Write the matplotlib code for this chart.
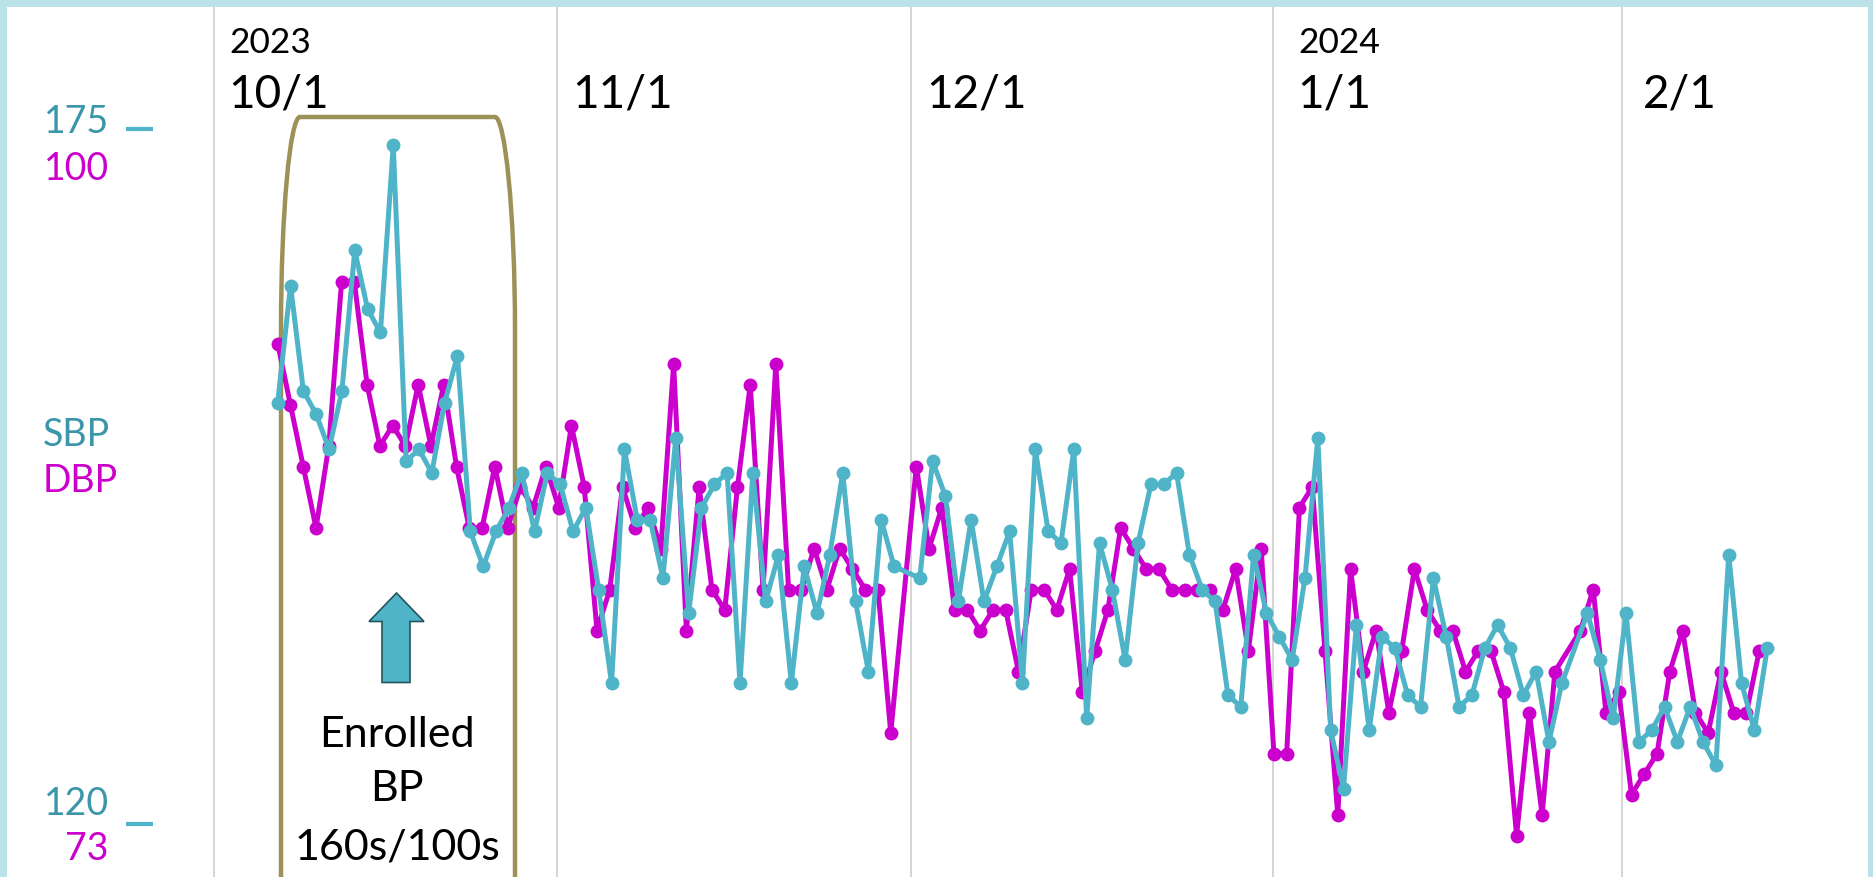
"""Home BP log: daily SBP / DBP readings, Oct 2023 - Feb 2024."""

import matplotlib

matplotlib.use("Agg")
import matplotlib.pyplot as plt
import numpy as np
from matplotlib.patches import PathPatch, Polygon, Rectangle
from matplotlib.path import Path

# daily readings, None = no reading that day
sbp = [
    157, 167, 158, 156, 153, 158, 170, 165, 163, 179,
    152, 153, 151, 157, 161, 146, 143, 146, 148, 151,
    146, 151, 150, 146, 148, 141, 133, 153, 147, 147,
    142, 154, 139, 148, 150, 151, 133, 151, 140, 144,
    133, 143, 139, 144, 151, 140, 134, 147, 143, None,
    142, 152, 149, 140, 147, 140, 143, 146, 133, 153,
    146, 145, 153, 130, 145, 141, 135, 145, 150, 150,
    151, 144, 141, 140, 132, 131, 144, 139, 137, 135,
    142, 154, 129, 124, 138, 129, 137, 136, 132, 131,
    142, 137, 131, 132, 136, 138, 136, 132, 134, 128,
    133, None, 139, 135, 130, 139, 128, 129, 131, 128,
    131, 128, 126, 144, 133, 129, 136,
]
dbp = [
    94, 91, 88, 85, 89, 97, 97, 92, 89, 90,
    89, 92, 89, 92, 88, 85, 85, 88, 85, 87,
    86, 88, 86, 90, 87, 80, 82, 87, 85, 86,
    84, 93, 80, 87, 82, 81, 87, 92, 82, 93,
    82, 82, 84, 82, 84, 83, 82, 82, 75, None,
    88, 84, 86, 81, 81, 80, 81, 81, 78, 82,
    82, 81, 83, 77, 79, 81, 85, 84, 83, 83,
    82, 82, 82, 82, 81, 83, 79, 84, 74, 74,
    86, 87, 79, 71, 83, 78, 80, 76, 79, 83,
    81, 80, 80, 78, 79, 79, 77, 70, 76, 71,
    78, None, 80, 82, 76, 77, 72, 73, 74, 78,
    80, 76, 75, 78, 76, 76, 79,
]

month_labels = ["10/1", "11/1", "12/1", "1/1", "2/1"]
year_labels = {"10/1": "2023", "1/1": "2024"}
note_lines = ["Enrolled", "BP", "160s/100s"]

W, H = 1874, 877
TEAL = "#4FB4C8"
TEAL_TEXT = "#3A96A8"
MAGENTA = "#CC00CC"
OLIVE = "#9C9258"

plt.rcParams["font.family"] = ["Lato", "DejaVu Sans"]

fig = plt.figure(figsize=(W / 100, H / 100), dpi=100)
fig.patch.set_facecolor("white")

# background layer in pixel coordinates (y down)
bg = fig.add_axes([0, 0, 1, 1])
bg.set_xlim(0, W)
bg.set_ylim(H, 0)
bg.axis("off")

grid_x = [214.5, 557, 911, 1273, 1622.5]
label_x = [228, 572, 926, 1297, 1643]
bg.vlines(grid_x, 7, H, color="#C9C9C9", lw=1.1)
for lab, lx in zip(month_labels, label_x):
    bg.text(lx, 108, lab, fontsize=33, va="baseline", ha="left", color="black")
    if lab in year_labels:
        bg.text(lx + 1, 53, year_labels[lab], fontsize=25.5, va="baseline", ha="left", color="black")

# enrolled bracket
verts = [
    (281, H), (281, 330),
    (281, 213), (290, 117), (300, 117),
    (495, 117),
    (505, 117), (515, 213), (515, 330),
    (515, H),
]
codes = [Path.MOVETO, Path.LINETO,
         Path.CURVE4, Path.CURVE4, Path.CURVE4,
         Path.LINETO,
         Path.CURVE4, Path.CURVE4, Path.CURVE4,
         Path.LINETO]
bg.add_patch(PathPatch(Path(verts, codes), fill=False, edgecolor=OLIVE, lw=3.2))

arrow = [(396.5, 593), (424, 621.5), (410, 621.5), (410, 682.5),
         (382, 682.5), (382, 621.5), (369, 621.5)]
bg.add_patch(Polygon(arrow, closed=True, facecolor=TEAL, edgecolor="#24555F", lw=1.2))
for txt, yb in zip(note_lines, [747, 801, 860]):
    bg.text(397, yb, txt, fontsize=31, ha="center", va="baseline", color="black")

# left-hand scale labels
bg.text(109, 133, "175", fontsize=27, ha="right", va="baseline", color=TEAL_TEXT)
bg.text(109, 180, "100", fontsize=27, ha="right", va="baseline", color=MAGENTA)
bg.text(43, 446, "SBP", fontsize=27, ha="left", va="baseline", color=TEAL_TEXT)
bg.text(43, 492, "DBP", fontsize=27, ha="left", va="baseline", color=MAGENTA)
bg.text(109, 815, "120", fontsize=27, ha="right", va="baseline", color=TEAL_TEXT)
bg.text(109, 860, "73", fontsize=27, ha="right", va="baseline", color=MAGENTA)
bg.hlines([129, 824], 126, 153, color=TEAL, lw=3)

# frame
for rect in [(0, 0, W, 7), (0, 0, 7, H), (W - 6, 0, 6, H)]:
    bg.add_patch(Rectangle(rect[:2], rect[2], rect[3], facecolor="#BCE2E9",
                           edgecolor="none", clip_on=False, zorder=5))


def series_axes(x0, step, v_base, y_base, px_per_unit):
    a = fig.add_axes([0, 0, 1, 1])
    a.set_facecolor("none")
    a.set_xlim(-x0 / step, (W - x0) / step)
    a.set_ylim(v_base - (H - y_base) / px_per_unit, v_base + y_base / px_per_unit)
    a.axis("off")
    return a


ax_d = series_axes(277.7, 12.772, 70, 835.5, 20.5)
ax_s = series_axes(277.7, 12.841, 120, 835.5, 11.7)

for a, vals, col in [(ax_d, dbp, MAGENTA), (ax_s, sbp, TEAL)]:
    y = np.array([np.nan if v is None else v for v in vals], dtype=float)
    x = np.arange(len(y))
    ok = ~np.isnan(y)
    a.plot(x[ok], y[ok], color=col, lw=3.6, marker="o", ms=10, mew=0,
           solid_joinstyle="round", clip_on=False)

fig.savefig("out.png", dpi=100)
plt.close(fig)
